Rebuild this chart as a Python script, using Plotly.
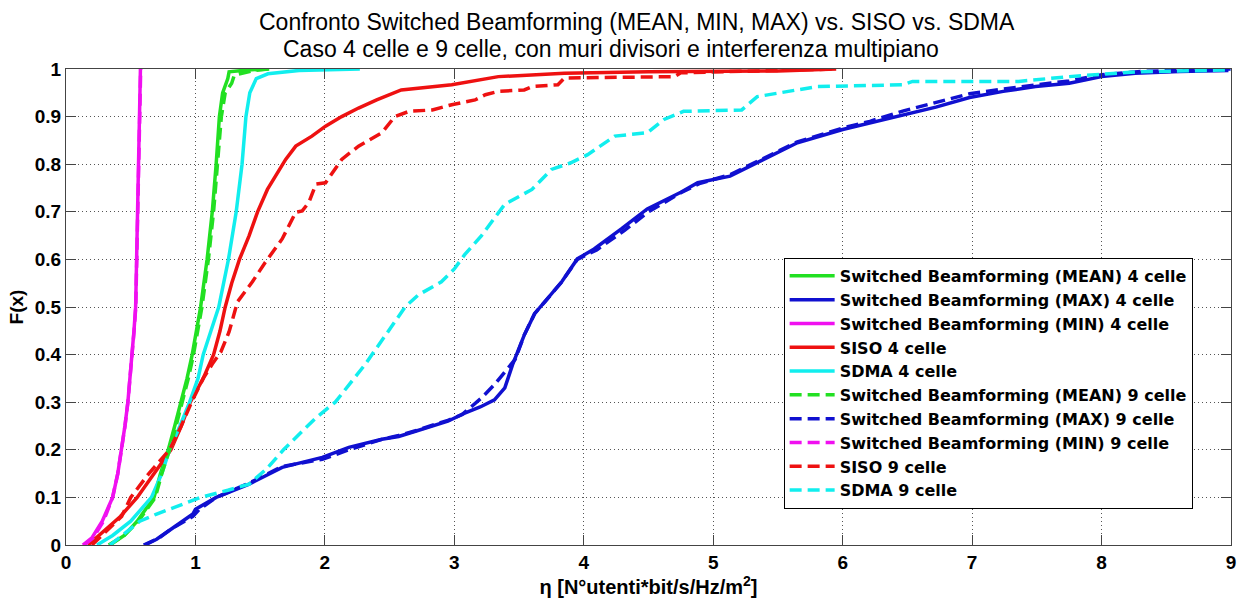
import plotly.graph_objects as go

# ---------------- data ----------------
mean4_x = [0.34, 0.45, 0.55, 0.68, 0.73, 0.79, 0.84, 0.89, 0.935, 0.975, 1.005, 1.04, 1.09, 1.13, 1.16, 1.185, 1.21, 1.25, 1.26, 1.4, 1.57]
mean4_y = [0.0, 0.02, 0.05, 0.1, 0.15, 0.2, 0.25, 0.3, 0.35, 0.4, 0.45, 0.5, 0.6, 0.7, 0.8, 0.9, 0.95, 0.98, 0.994, 0.998, 1.0]

max4_x = [0.61, 0.7, 0.8, 0.98, 1.0, 1.16, 1.415, 1.67, 1.98, 2.185, 2.44, 2.57, 2.70, 2.95, 3.08, 3.2, 3.31, 3.39, 3.45, 3.54, 3.62, 3.70, 3.83, 3.95, 4.08, 4.29, 4.49, 4.75, 4.88, 5.13, 5.39, 5.65, 6.0, 6.21, 6.47, 6.72, 6.98, 7.24, 7.49, 7.75, 8.0, 8.26, 8.6, 8.98]
max4_y = [0.0, 0.012, 0.031, 0.065, 0.075, 0.10, 0.128, 0.163, 0.184, 0.205, 0.222, 0.228, 0.239, 0.26, 0.277, 0.29, 0.305, 0.33, 0.379, 0.441, 0.486, 0.511, 0.553, 0.601, 0.622, 0.664, 0.706, 0.741, 0.761, 0.775, 0.81, 0.845, 0.873, 0.887, 0.905, 0.92, 0.94, 0.953, 0.963, 0.97, 0.984, 0.991, 0.995, 0.997]

min4_x = [0.13, 0.2, 0.28, 0.36, 0.4, 0.43, 0.455, 0.478, 0.495, 0.51, 0.525, 0.538, 0.545, 0.552, 0.562, 0.575]
min4_y = [0.0, 0.015, 0.05, 0.1, 0.15, 0.2, 0.25, 0.3, 0.35, 0.4, 0.45, 0.5, 0.6, 0.7, 0.85, 1.0]

siso4_x = [0.17, 0.3, 0.42, 0.55, 0.68, 0.81, 0.89, 0.96, 1.06, 1.14, 1.19, 1.23, 1.28, 1.34, 1.415, 1.48, 1.556, 1.697, 1.775, 1.9, 2.005, 2.13, 2.26, 2.4, 2.59, 2.98, 3.34, 3.85, 4.5, 5.5, 5.95]
siso4_y = [0.0, 0.03, 0.06, 0.1, 0.15, 0.2, 0.25, 0.3, 0.35, 0.4, 0.45, 0.5, 0.55, 0.6, 0.65, 0.7, 0.747, 0.81, 0.838, 0.859, 0.88, 0.90, 0.918, 0.935, 0.956, 0.967, 0.984, 0.991, 0.994, 0.996, 1.0]

sdma4_x = [0.24, 0.36, 0.5, 0.66, 0.74, 0.8, 0.88, 0.955, 1.02, 1.06, 1.12, 1.18, 1.255, 1.315, 1.36, 1.39, 1.42, 1.47, 1.56, 1.8, 2.27]
sdma4_y = [0.0, 0.02, 0.05, 0.1, 0.15, 0.2, 0.25, 0.3, 0.35, 0.4, 0.45, 0.5, 0.6, 0.7, 0.8, 0.9, 0.95, 0.98, 0.99, 0.997, 1.0]

mean9_x = [0.33, 0.45, 0.56, 0.69, 0.74, 0.8, 0.85, 0.9, 0.945, 0.985, 1.015, 1.05, 1.1, 1.14, 1.17, 1.2, 1.23, 1.28, 1.3, 1.45, 1.57]
mean9_y = [0.0, 0.02, 0.05, 0.1, 0.15, 0.2, 0.25, 0.3, 0.35, 0.4, 0.45, 0.5, 0.6, 0.7, 0.8, 0.9, 0.95, 0.97, 0.987, 0.997, 1.0]

max9_x = [0.6, 0.72, 0.82, 0.98, 1.03, 1.16, 1.415, 1.67, 1.98, 2.185, 2.44, 2.57, 2.70, 2.95, 3.06, 3.21, 3.31, 3.415, 3.47, 3.54, 3.62, 3.70, 3.83, 3.95, 4.1, 4.31, 4.5, 4.75, 4.9, 5.13, 5.39, 5.65, 6.0, 6.21, 6.47, 6.72, 6.98, 7.24, 7.49, 7.75, 8.0, 8.3, 8.6, 9.0]
max9_y = [0.0, 0.015, 0.035, 0.06, 0.075, 0.10, 0.13, 0.165, 0.18, 0.2, 0.222, 0.23, 0.24, 0.262, 0.274, 0.309, 0.337, 0.372, 0.39, 0.441, 0.486, 0.511, 0.553, 0.60, 0.62, 0.66, 0.70, 0.74, 0.76, 0.778, 0.812, 0.847, 0.876, 0.89, 0.912, 0.93, 0.948, 0.958, 0.967, 0.975, 0.988, 0.995, 0.997, 1.0]

min9_x = [0.14, 0.21, 0.29, 0.36, 0.4, 0.43, 0.456, 0.478, 0.496, 0.511, 0.526, 0.539, 0.546, 0.553, 0.563, 0.577]
min9_y = [0.0, 0.015, 0.05, 0.1, 0.15, 0.2, 0.25, 0.3, 0.35, 0.4, 0.45, 0.5, 0.6, 0.7, 0.85, 1.0]

siso9_x = [0.2, 0.32, 0.43, 0.5, 0.64, 0.8, 0.89, 0.97, 1.06, 1.13, 1.197, 1.26, 1.325, 1.44, 1.54, 1.67, 1.775, 1.825, 1.877, 1.93, 2.005, 2.13, 2.26, 2.44, 2.54, 2.65, 2.83, 2.98, 3.16, 3.24, 3.34, 3.54, 3.6, 3.8, 3.85, 4.7, 4.75, 5.95]
siso9_y = [0.0, 0.03, 0.06, 0.1, 0.15, 0.2, 0.25, 0.3, 0.35, 0.38, 0.406, 0.448, 0.511, 0.553, 0.594, 0.643, 0.699, 0.702, 0.72, 0.758, 0.761, 0.81, 0.838, 0.866, 0.90, 0.911, 0.914, 0.925, 0.935, 0.946, 0.953, 0.956, 0.963, 0.967, 0.981, 0.984, 0.992, 1.0]

sdma9_x = [0.34, 0.45, 0.57, 0.7, 0.85, 1.04, 1.25, 1.415, 1.55, 1.68, 1.93, 2.08, 2.31, 2.49, 2.62, 2.72, 2.9, 3.0, 3.08, 3.21, 3.34, 3.39, 3.6, 3.75, 3.9, 4.03, 4.24, 4.49, 4.62, 4.77, 5.22, 5.34, 5.8, 6.47, 6.54, 7.36, 7.75, 8.0, 8.26, 9.0]
sdma9_y = [0.0, 0.025, 0.05, 0.065, 0.08, 0.1, 0.115, 0.128, 0.16, 0.2, 0.267, 0.3, 0.379, 0.448, 0.5, 0.525, 0.553, 0.58, 0.61, 0.65, 0.699, 0.716, 0.747, 0.789, 0.803, 0.82, 0.859, 0.866, 0.894, 0.911, 0.914, 0.942, 0.963, 0.967, 0.974, 0.974, 0.984, 0.988, 0.994, 0.998]

x_ticks = [0, 1, 2, 3, 4, 5, 6, 7, 8, 9]
y_ticks = [0, 0.1, 0.2, 0.3, 0.4, 0.5, 0.6, 0.7, 0.8, 0.9, 1]
y_tick_labels = ["0", "0.1", "0.2", "0.3", "0.4", "0.5", "0.6", "0.7", "0.8", "0.9", "1"]

title_line1 = "Confronto Switched Beamforming (MEAN, MIN, MAX) vs. SISO vs. SDMA"
title_line2 = "Caso 4 celle e 9 celle, con muri divisori e interferenza multipiano"

series = [
    ("Switched Beamforming (MEAN) 4 celle", mean4_x, mean4_y, "#22e022", "solid"),
    ("Switched Beamforming (MAX) 4 celle", max4_x, max4_y, "#1010d0", "solid"),
    ("Switched Beamforming (MIN) 4 celle", min4_x, min4_y, "#f010f0", "solid"),
    ("SISO 4 celle", siso4_x, siso4_y, "#ee1111", "solid"),
    ("SDMA 4 celle", sdma4_x, sdma4_y, "#11eeee", "solid"),
    ("Switched Beamforming (MEAN) 9 celle", mean9_x, mean9_y, "#22e022", "12px,6px"),
    ("Switched Beamforming (MAX) 9 celle", max9_x, max9_y, "#1010d0", "12px,6px"),
    ("Switched Beamforming (MIN) 9 celle", min9_x, min9_y, "#f010f0", "12px,6px"),
    ("SISO 9 celle", siso9_x, siso9_y, "#ee1111", "12px,6px"),
    ("SDMA 9 celle", sdma9_x, sdma9_y, "#11eeee", "12px,6px"),
]

fig = go.Figure()
for name, xs, ys, col, dash in series:
    fig.add_trace(go.Scatter(
        x=xs, y=ys, mode="lines", name=name,
        line=dict(color=col, width=3.5, dash=dash),
    ))

tick_font = dict(family="Liberation Sans", size=19, color="black", weight="bold")
axis_common = dict(
    showline=True, linecolor="#444", linewidth=1, mirror="ticks",
    ticks="inside", ticklen=10, tickcolor="#444", tickwidth=1,
    showgrid=True, gridcolor="#555", gridwidth=1, griddash="1px,3px",
    zeroline=False, tickfont=tick_font,
)

fig.update_layout(
    width=1245, height=600,
    margin=dict(l=66, r=9, t=69, b=52, pad=0),
    paper_bgcolor="white", plot_bgcolor="white",
    showlegend=True,
    legend=dict(
        x=0.616, y=0.603, xanchor="left", yanchor="top",
        bgcolor="white", bordercolor="black", borderwidth=1,
        font=dict(family="DejaVu Sans", size=16, color="black", weight="bold"),
        tracegroupgap=0, itemwidth=45,
    ),
    xaxis=dict(
        range=[0, 9], tickvals=x_ticks,
        title=dict(text="η [N°utenti*bit/s/Hz/m<sup>2</sup>]",
                   font=dict(family="Liberation Sans", size=20, color="black", weight="bold"),
                   standoff=4),
        **axis_common,
    ),
    yaxis=dict(
        range=[0, 1], tickvals=y_ticks, ticktext=y_tick_labels,
        title=dict(text="F(x)",
                   font=dict(family="Liberation Sans", size=19, color="black", weight="bold"),
                   standoff=6),
        **axis_common,
    ),
    annotations=[
        dict(text=title_line1, xref="paper", yref="paper", x=0.490, y=1.098,
             xanchor="center", yanchor="middle", showarrow=False,
             font=dict(family="Liberation Sans", size=23, color="black")),
        dict(text=title_line2, xref="paper", yref="paper", x=0.4675, y=1.042,
             xanchor="center", yanchor="middle", showarrow=False,
             font=dict(family="Liberation Sans", size=23, color="black")),
    ],
)

fig.write_html("out.html")
